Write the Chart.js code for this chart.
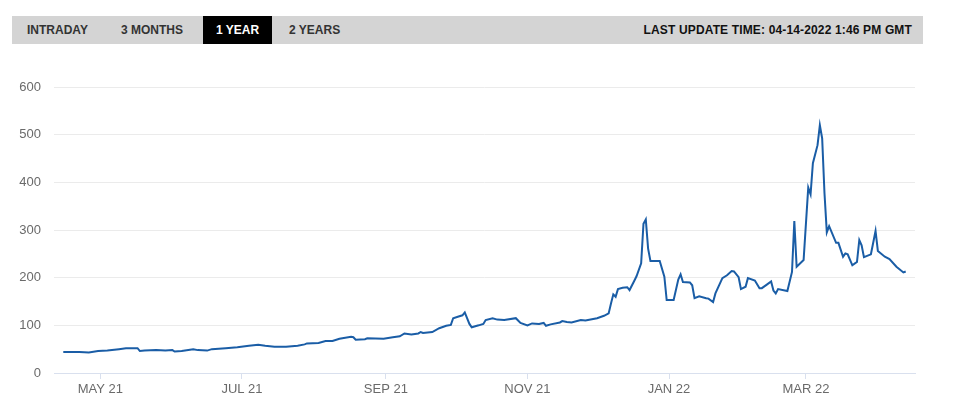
<!DOCTYPE html>
<html>
<head>
<meta charset="utf-8">
<script src="https://cdn.jsdelivr.net/npm/chart.js@4"></script>
<style>
  html, body { margin:0; padding:0; background:#fff; width:960px; height:406px; overflow:hidden; }
  #wrap { position:absolute; left:0; top:0; width:960px; height:406px; }
  #bar { position:absolute; left:12px; top:16px; width:911px; height:28px; background:#d4d4d4;
         font-family:"Liberation Sans", Arial, sans-serif; font-weight:bold; font-size:12px; }
  .tab { position:absolute; top:0; height:28px; line-height:29px; color:#333; letter-spacing:0px; }
  .tab.active { background:#000; color:#fff; }
  #upd { position:absolute; right:11px; top:0; height:28px; line-height:29px; color:#111; letter-spacing:0.15px; }
  #cv { position:absolute; left:0; top:0; }
</style>
</head>
<body>
<div id="wrap">
  <canvas id="cv" width="960" height="406"></canvas>
  <div id="bar">
    <div class="tab" style="left:15px;">INTRADAY</div>
    <div class="tab" style="left:109px;">3 MONTHS</div>
    <div class="tab active" style="left:191px;width:69px;text-align:center;">1 YEAR</div>
    <div class="tab" style="left:277px;">2 YEARS</div>
    <div id="upd">LAST UPDATE TIME: 04-14-2022 1:46 PM GMT</div>
  </div>
</div>
<script>
const dates = [
"2021-04-15","2021-04-22","2021-04-26","2021-04-30","2021-05-04","2021-05-09","2021-05-12","2021-05-17","2021-05-18","2021-05-20",
"2021-05-25","2021-05-29","2021-06-01","2021-06-02","2021-06-05","2021-06-10","2021-06-12","2021-06-16","2021-06-18","2021-06-24",
"2021-06-29","2021-07-04","2021-07-08","2021-07-11","2021-07-15","2021-07-20","2021-07-25","2021-07-28","2021-07-29","2021-08-03",
"2021-08-06","2021-08-09","2021-08-12","2021-08-17","2021-08-18","2021-08-19","2021-08-23","2021-08-24","2021-08-31","2021-09-04",
"2021-09-07","2021-09-09","2021-09-12","2021-09-15","2021-09-16","2021-09-17","2021-09-21","2021-09-24","2021-09-27","2021-09-29",
"2021-09-30","2021-10-02","2021-10-04","2021-10-05","2021-10-07","2021-10-08","2021-10-11","2021-10-13","2021-10-14","2021-10-17",
"2021-10-19","2021-10-22","2021-10-27","2021-10-29","2021-11-01","2021-11-03","2021-11-06","2021-11-08","2021-11-09","2021-11-11",
"2021-11-15","2021-11-16","2021-11-18","2021-11-20","2021-11-24","2021-11-26","2021-12-01","2021-12-04","2021-12-06","2021-12-07",
"2021-12-08","2021-12-09","2021-12-10","2021-12-12","2021-12-14","2021-12-15","2021-12-17","2021-12-18","2021-12-20","2021-12-21",
"2021-12-22","2021-12-23","2021-12-24","2021-12-28","2021-12-30","2021-12-31","2022-01-03","2022-01-05","2022-01-06","2022-01-07",
"2022-01-10","2022-01-11","2022-01-12","2022-01-14","2022-01-17","2022-01-18","2022-01-20","2022-01-21","2022-01-24","2022-01-26",
"2022-01-28","2022-01-29","2022-01-31","2022-02-01","2022-02-03","2022-02-04","2022-02-07","2022-02-09","2022-02-10","2022-02-12",
"2022-02-14","2022-02-15","2022-02-16","2022-02-17","2022-02-21","2022-02-23","2022-02-24","2022-02-25","2022-02-28","2022-03-02",
"2022-03-03","2022-03-04","2022-03-06","2022-03-07","2022-03-08","2022-03-09","2022-03-10","2022-03-11","2022-03-14","2022-03-15",
"2022-03-17","2022-03-18","2022-03-19","2022-03-21","2022-03-23","2022-03-24","2022-03-25","2022-03-26","2022-03-29","2022-03-31",
"2022-04-01","2022-04-04","2022-04-06","2022-04-09","2022-04-12","2022-04-13"
];
const values = [
44,44,43,46,47,50,52,52,46,47,
48,47,48,45,46,50,48,47,50,52,
54,57,59,57,55,55,57,60,62,63,
67,67,72,76,75,70,71,73,72,75,
77,83,81,83,86,84,86,94,99,101,
115,118,121,127,103,96,100,103,111,115,
112,111,115,105,100,104,103,105,99,102,
106,109,107,106,111,110,115,120,125,146,
165,160,176,179,180,174,193,203,230,313,
322,261,235,235,202,153,153,196,207,191,
190,184,157,161,157,156,149,167,199,205,
214,213,201,176,181,199,194,178,178,185,
192,173,167,176,172,212,319,223,237,389,
375,440,478,520,492,377,295,308,273,273,
244,251,249,226,233,279,268,243,249,298,
256,244,239,223,211,213
];
const tickDates = ["2021-05-01","2021-07-01","2021-09-01","2021-11-01","2022-01-01","2022-03-01"];
const tickLabels = ["MAY 21","JUL 21","SEP 21","NOV 21","JAN 22","MAR 22"];
const yTicks = [0,100,200,300,400,500,600];
const xStart = "2021-04-11";
const xEnd = "2022-04-17";

function dayNum(s){ const p = s.split("-").map(Number); return Date.UTC(p[0], p[1]-1, p[2]) / 86400000; }
const pts = dates.map((d,i) => ({x: dayNum(d), y: values[i]}));
const tickVals = tickDates.map(dayNum);

new Chart(document.getElementById("cv"), {
  type: "line",
  data: { datasets: [{ data: pts, borderColor: "#1a5da6", borderWidth: 2, pointRadius: 0, tension: 0, fill: false }] },
  options: {
    responsive: false, animation: false, devicePixelRatio: 1,
    plugins: { legend: { display: false }, tooltip: { enabled: false } },
    layout: { padding: { top: 87, right: 45, left: 0, bottom: 0 } },
    scales: {
      x: {
        type: "linear", min: dayNum(xStart), max: dayNum(xEnd),
        afterBuildTicks: (sc) => { sc.ticks = tickVals.map(v => ({ value: v })); },
        afterFit: (sc) => { sc.height = 33; },
        ticks: { autoSkip: false, maxRotation: 0, padding: 3, color: "#6a6a6a",
                 font: { family: "'Liberation Sans', Arial, sans-serif", size: 13 },
                 callback: (v) => { const i = tickVals.indexOf(v); return i >= 0 ? tickLabels[i] : ""; } },
        grid: { drawOnChartArea: false, drawTicks: true, tickLength: 6, color: "#d9e0ee" },
        border: { display: true, color: "#d9e0ee", width: 1 }
      },
      y: {
        min: 0, max: 600,
        afterBuildTicks: (sc) => { sc.ticks = yTicks.map(v => ({ value: v })); },
        afterFit: (sc) => { sc.width = 54; },
        ticks: { padding: 13, color: "#6a6a6a", font: { family: "'Liberation Sans', Arial, sans-serif", size: 13 } },
        grid: { drawTicks: false, color: "#ebebeb" },
        border: { display: false }
      }
    }
  }
});
</script>
</body>
</html>
